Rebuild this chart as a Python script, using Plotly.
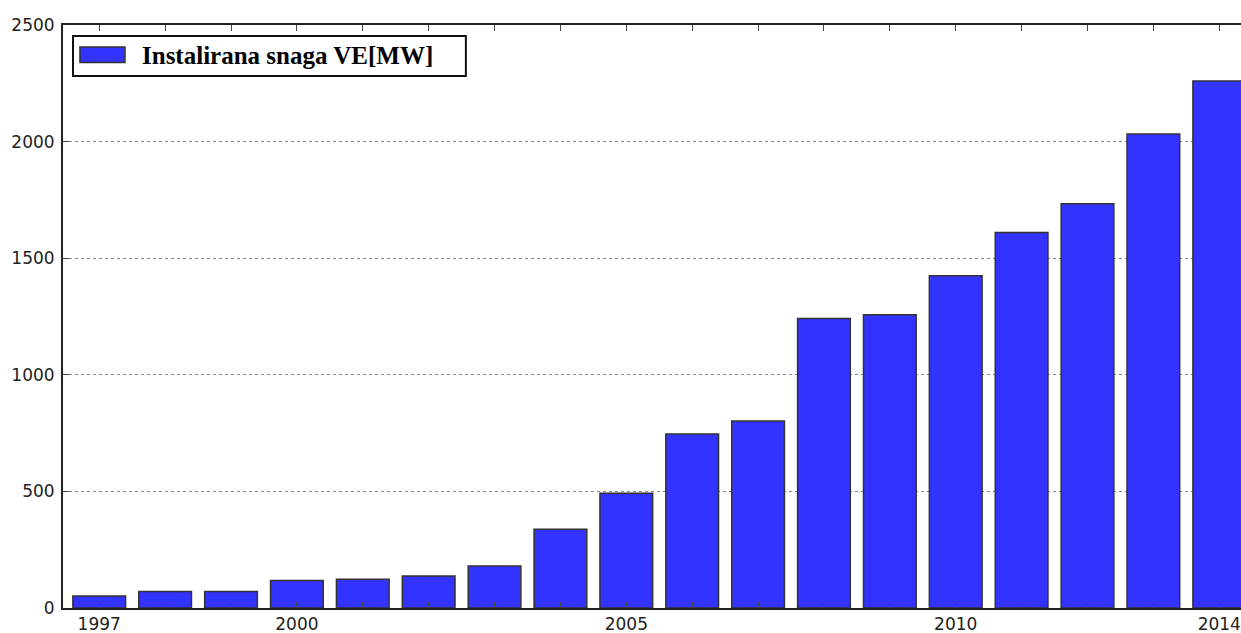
import plotly.graph_objects as go

years = list(range(1997, 2015))
capacity_mw = [51, 71, 71, 118, 123, 137, 180, 338, 492, 746, 802, 1241, 1258, 1425, 1610, 1734, 2033, 2260]
x_tick_labels = {1997: "1997", 2000: "2000", 2005: "2005", 2010: "2010", 2014: "2014"}
y_ticks = [0, 500, 1000, 1500, 2000, 2500]
series_name = "Instalirana snaga VE[MW]"
bar_color = "#3333ff"

fig = go.Figure()
fig.add_trace(go.Bar(
    x=years, y=capacity_mw, name=series_name, width=0.8,
    marker=dict(color=bar_color, line=dict(color="#333333", width=1.5)),
    showlegend=False,
))

# manual legend (box, swatch, label) in paper coordinates
fig.add_shape(type="rect", xref="paper", yref="paper",
              x0=0.0085, x1=0.342, y0=0.9125, y1=0.981,
              fillcolor="white", line=dict(color="#111111", width=2), layer="above")
fig.add_shape(type="rect", xref="paper", yref="paper",
              x0=0.0144, x1=0.0526, y0=0.9357, y1=0.9623,
              fillcolor=bar_color, line=dict(color="#333333", width=1.5), layer="above")
fig.add_annotation(xref="paper", yref="paper", x=0.0654, y=0.9485,
                   xanchor="left", yanchor="middle", showarrow=False,
                   text="<b>" + series_name + "</b>",
                   font=dict(family="Liberation Serif", size=25, color="#000000"))

fig.update_layout(
    width=1241, height=633,
    margin=dict(l=63, r=0, t=25, b=25),
    paper_bgcolor="white", plot_bgcolor="white",
    font=dict(family="DejaVu Sans", size=17, color="#222222"),
    showlegend=False,
    xaxis=dict(
        range=[1996.45, 2014.33],
        tickvals=years,
        ticktext=[x_tick_labels.get(y, "") for y in years],
        ticks="inside", ticklen=6, tickwidth=1, tickcolor="#444444",
        showline=True, linecolor="#222222", linewidth=2, mirror="ticks",
        showgrid=False, zeroline=False,
        layer="above traces",
    ),
    yaxis=dict(
        range=[0, 2500],
        tickvals=y_ticks,
        ticks="inside", ticklen=6, tickwidth=1, tickcolor="#444444",
        showline=True, linecolor="#222222", linewidth=2,
        showgrid=True, gridcolor="#888888", griddash="dot", gridwidth=1,
        zeroline=False, ticklabelstandoff=3,
        layer="above traces",
    ),
)

fig.write_html(
    "out.html",
    config={"displayModeBar": False},
    post_script="document.body.style.margin='0';document.body.style.overflow='hidden';",
)
